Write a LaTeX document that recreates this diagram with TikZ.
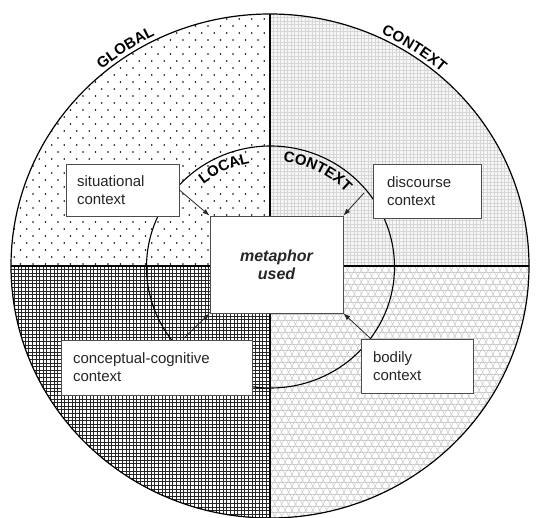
\documentclass[tikz,border=0pt]{standalone}
\usepackage{fontspec}
\setmainfont{Liberation Sans}
\usetikzlibrary{arrows.meta,decorations.text}
\newcommand\arclab{\fontsize{15}{18}\selectfont\bfseries}

\begin{document}
\begin{tikzpicture}[x=1pt, y=1pt, >={Latex[length=7pt,width=5pt]},
    font=\fontsize{15}{18}\selectfont,
    ctxbox/.style={rectangle, draw=black!70, line width=0.8pt, fill=white, align=left, inner sep=0pt, text=black!85},
    feed/.style={->, line width=0.8pt, black!85},
    arcpath/.style={decorate, decoration={text along path, text align=center, text={|\arclab|#1}}}]
    \useasboundingbox (0,0) rectangle (536,-518);
    \coordinate (ctr) at (270,-266);
    \coordinate (inctr) at (270.5,-267);

    % quadrant textures
    \begin{scope}
        \clip (ctr) ellipse [x radius=259, y radius=252];
        \begin{scope}
            \clip (0,0) rectangle (ctr);
            \foreach \j in {0,...,37}{
                \pgfmathsetmacro\off{mod(\j,2)*6.25}
                \foreach \i in {0,...,21}
                    \fill (8+\i*12.5+\off, -12-\j*7) circle (0.95);
            }
        \end{scope}
        \begin{scope}
            \clip (ctr) rectangle (536,0);
            \fill[gray!6] (ctr) rectangle (536,0);
            \foreach \i in {0,...,76}{
                \draw[gray!32, line width=0.7] (270+\i*3.5,0) -- ++(0,-266);
                \draw[gray!32, line width=0.7] (270,-\i*3.5) -- ++(266,0);
            }
        \end{scope}
        \begin{scope}
            \clip (ctr) rectangle (0,-518);
            \foreach \i in {0,...,75}{
                \draw[black!85, line width=1.0] (\i*3.6,-266) -- ++(0,-252);
                \draw[black!85, line width=1.0] (0,-266-\i*3.6) -- ++(270,0);
            }
        \end{scope}
        \begin{scope}
            \clip (ctr) rectangle (536,-518);
            \foreach \i in {0,...,60}{
                \draw[gray!45, line width=0.5] (120+\i*6.93,-520) -- ++(60:300);
                \draw[gray!45, line width=0.5] (270+\i*6.93,-520) -- ++(120:300);
            }
            \foreach \i in {0,...,42}
                \draw[gray!40, line width=0.5] (270,-266-\i*6) -- ++(266,0);
        \end{scope}
    \end{scope}

    \draw[line width=1.2pt] (ctr) ellipse [x radius=259, y radius=252];
    \draw[line width=1.4pt] (ctr) ++(0,252) -- ++(0,-504);
    \draw[line width=1.2pt] (ctr) ++(-259,0) -- ++(518,0);
    \draw[line width=1.1pt] (inctr) ellipse [x radius=124, y radius=121];

    \node[ctxbox, minimum width=133, minimum height=97, align=center, font=\fontsize{16}{18}\selectfont\bfseries\itshape] (meta) at (276.5,-264.5) {metaphor\\used};
    \node[ctxbox, minimum width=113, minimum height=52, text width=91] (sit) at (122.5,-190) {situational\\context};
    \node[ctxbox, minimum width=108, minimum height=54, text width=80] (dis) at (427,-191) {discourse\\context};
    \node[ctxbox, minimum width=191, minimum height=55, text width=167] (cog) at (156.5,-367.5) {conceptual-cognitive\\context};
    \node[ctxbox, minimum width=112, minimum height=54, text width=88] (bod) at (417,-366) {bodily\\context};

    \coordinate (disout) at (364,-193);
    \coordinate (cogout) at (183,-339);
    \coordinate (bodout) at (370,-338);
    \draw[feed] (sit.east) -- (meta.north west);
    \draw[feed] (disout) -- (meta.north east);
    \draw[feed] (cogout) -- (meta.south west);
    \draw[feed] (bodout) -- (meta.south east);

    % labels on the rings
    \path[arcpath=GLOBAL] (ctr) ++(150:263 and 256) arc[start angle=150, end angle=96, x radius=263, y radius=256];
    \path[arcpath=CONTEXT] (ctr) ++(84:263 and 256) arc[start angle=84, end angle=30, x radius=263, y radius=256];
    \path[arcpath=LOCAL] (inctr) ++(145:107 and 106) arc[start angle=145, end angle=85, x radius=107, y radius=106];
    \path[arcpath=CONTEXT] (inctr) ++(94:107 and 106) arc[start angle=94, end angle=34, x radius=107, y radius=106];
\end{tikzpicture}
\end{document}
